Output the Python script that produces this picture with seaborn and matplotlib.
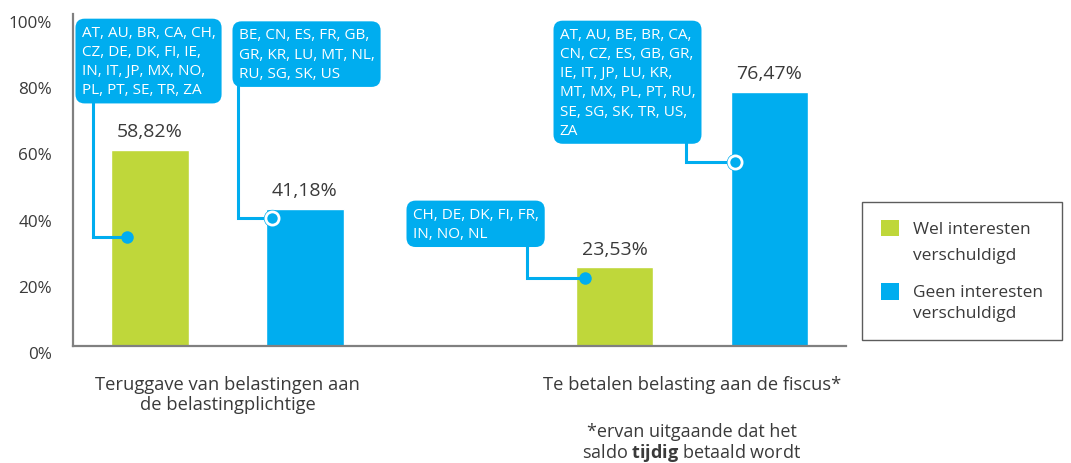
import matplotlib
matplotlib.use("Agg")
import matplotlib.pyplot as plt
import seaborn as sns
import pandas as pd
from matplotlib.transforms import ScaledTranslation
from matplotlib.legend_handler import HandlerPatch
from matplotlib.patches import Rectangle

# ---------------- data ----------------
categories = ["Teruggave van belastingen aan\nde belastingplichtige",
              "Te betalen belasting aan de fiscus*"]
series = ["Wel interesten\nverschuldigd", "Geen interesten\nverschuldigd"]
wel_values = [58.82, 23.53]
geen_values = [41.18, 76.47]
wel_labels = ["58,82%", "23,53%"]
geen_labels = ["41,18%", "76,47%"]
yticks = [0, 20, 40, 60, 80, 100]
ytick_labels = ["0%", "20%", "40%", "60%", "80%", "100%"]

callout_texts = [
    "AT, AU, BR, CA, CH,\nCZ, DE, DK, FI, IE,\nIN, IT, JP, MX, NO,\nPL, PT, SE, TR, ZA",
    "BE, CN, ES, FR, GB,\nGR, KR, LU, MT, NL,\nRU, SG, SK, US",
    "CH, DE, DK, FI, FR,\nIN, NO, NL",
    "AT, AU, BE, BR, CA,\nCN, CZ, ES, GB, GR,\nIE, IT, JP, LU, KR,\nMT, MX, PL, PT, RU,\nSE, SG, SK, TR, US,\nZA",
]
footnote = "*ervan uitgaande dat het\nsaldo $\\mathbf{tijdig}$ betaald wordt"

# ---------------- layout / style ----------------
GREEN = "#BFD73A"
BLUE = "#00ADEF"
TEXT = "#3a3a3a"
callout_box = [(-0.3141, 96.6), (0.0239, 95.8), (0.3985, 41.8), (0.7150, 96.0)]
connector_x = [-0.2896, 0.0226, 0.6448, 0.9871]
marker_pt = [(-0.2164, 32.7), (0.0958, 38.4), (0.7696, 20.3), (1.0926, 55.2)]
marker_filled = [True, False, True, False]

sns.set_theme(style="white")
plt.rcParams["font.family"] = ["Open Sans", "DejaVu Sans"]
plt.rcParams["mathtext.fontset"] = "custom"
plt.rcParams["mathtext.rm"] = "Open Sans"
plt.rcParams["mathtext.bf"] = "Open Sans:bold"

df = pd.DataFrame({
    "cat": categories * 2,
    "serie": [series[0]] * 2 + [series[1]] * 2,
    "val": wel_values + geen_values,
})

fig = plt.figure(figsize=(10.71, 4.64), dpi=100)
ax = fig.add_axes([73 / 1071, (464 - 346.5) / 464, 773 / 1071, 332 / 464])

sns.barplot(data=df, x="cat", y="val", hue="serie", order=categories,
            hue_order=series, palette=[GREEN, BLUE], width=0.667, gap=0.5,
            saturation=1, ax=ax, legend=False)

ax.set_ylim(0, 100)
ax.set_xlim(-0.3326, 1.3315)
ax.set_xlabel("")
ax.set_ylabel("")
ax.set_yticks(yticks)
ax.set_yticklabels(ytick_labels)
ax.tick_params(axis="y", length=0, pad=15, labelsize=12.3, labelcolor=TEXT)
ax.tick_params(axis="x", length=0, pad=21, labelsize=13.2, labelcolor=TEXT)
for lab in ax.get_yticklabels():
    lab.set_transform(lab.get_transform() + ScaledTranslation(0, -7 / 100, fig.dpi_scale_trans))
for lab in ax.get_xticklabels():
    lab.set_linespacing(1.2)
for s in ["top", "right"]:
    ax.spines[s].set_visible(False)
for s in ["left", "bottom"]:
    ax.spines[s].set_color("#808080")
    ax.spines[s].set_linewidth(1.6)

ax.bar_label(ax.containers[0], labels=wel_labels, padding=7, fontsize=14, color=TEXT)
ax.bar_label(ax.containers[1], labels=geen_labels, padding=7, fontsize=14, color=TEXT)

# callouts
for txt, (bx, by), cx, (mx, my), filled in zip(callout_texts, callout_box, connector_x,
                                                marker_pt, marker_filled):
    ax.plot([cx, cx, mx], [by, my, my], color=BLUE, lw=2.2, zorder=4,
            solid_joinstyle="miter", clip_on=False)
    if filled:
        ax.plot([mx], [my], marker="o", ms=9, mfc=BLUE, mec=BLUE, mew=0, zorder=6)
    else:
        ax.plot([mx], [my], marker="o", ms=12.5, mfc=BLUE, mec=BLUE, mew=0, zorder=5)
        ax.plot([mx], [my], marker="o", ms=9.5, mfc=BLUE, mec="white", mew=2, zorder=6)
    ax.text(bx, by, txt, ha="left", va="top", color="white", fontsize=11,
            linespacing=1.38, zorder=7,
            bbox=dict(boxstyle="round,pad=0.4,rounding_size=0.6", fc=BLUE, ec="none"))

# footnote under second category
ax.annotate(footnote, xy=(1, 0), xycoords=ax.get_xaxis_transform(),
            xytext=(0, -55), textcoords="offset points", ha="center", va="top",
            fontsize=13, color=TEXT, linespacing=1.1)


# legend (handles aligned with first text line)
class TopHandler(HandlerPatch):
    def __init__(self, shift, **kw):
        super().__init__(**kw)
        self.shift = shift

    def create_artists(self, legend, orig_handle, xdescent, ydescent, width, height,
                       fontsize, trans):
        r = Rectangle((-xdescent, -ydescent + self.shift), width, height,
                      fc=orig_handle.get_facecolor(), ec="none", transform=trans)
        return [r]


handles = [Rectangle((0, 0), 1, 1, fc=GREEN, ec="none"),
           Rectangle((0, 0), 1, 1, fc=BLUE, ec="none")]
leg = fig.legend(handles, series, loc="upper left",
                 bbox_to_anchor=(862 / 1071, 1 - 203 / 464), fontsize=12.5,
                 frameon=True, fancybox=False, borderaxespad=0, borderpad=1.1,
                 handlelength=1.05, handleheight=1.05, handletextpad=0.8,
                 labelspacing=1.2, labelcolor=TEXT,
                 handler_map={handles[0]: TopHandler(10.5), handles[1]: TopHandler(8.0)})
leg.get_frame().set_edgecolor("#333333")
leg.get_frame().set_linewidth(1.0)
leg.get_texts()[0].set_linespacing(1.85)
leg.get_texts()[1].set_linespacing(1.4)

fig.savefig("out.png", dpi=100, facecolor="white")
